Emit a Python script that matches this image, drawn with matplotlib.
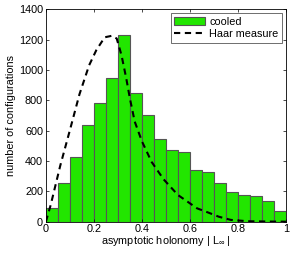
import matplotlib
matplotlib.use("Agg")
import matplotlib.pyplot as plt
import numpy as np

# histogram of cooled configurations (20 bins of width 0.05)
bin_edges = np.linspace(0, 1, 21)
counts = [92, 253, 426, 636, 783, 950, 1233, 851, 704, 544,
          470, 456, 338, 325, 252, 193, 176, 167, 138, 68]

# Haar measure curve
haar_x = [0.0, 0.02, 0.06, 0.10, 0.14, 0.18, 0.21, 0.245, 0.275, 0.295,
          0.315, 0.335, 0.35, 0.37, 0.40, 0.44, 0.49, 0.55, 0.63, 0.68,
          0.72, 0.77, 0.84, 0.92, 1.0]
haar_y = [0, 110, 370, 603, 840, 1030, 1130, 1215, 1225, 1207,
          1097, 943, 812, 660, 530, 395, 280, 176, 88, 58,
          33, 12, 3, 1, 0]

plt.rcParams["font.family"] = ["Liberation Sans", "DejaVu Sans"]
plt.rcParams["mathtext.fontset"] = "custom"
plt.rcParams["mathtext.rm"] = "Liberation Sans"
plt.rcParams["mathtext.it"] = "Liberation Sans"

fs = 7.8

fig = plt.figure(figsize=(2.96, 2.56), dpi=100)
ax = fig.add_axes([0.155, 0.134, 0.811, 0.83])

bars = ax.bar(bin_edges[:-1], counts, width=0.05, align="edge",
              color="#22e600", edgecolor="#555555", linewidth=0.8,
              label="cooled")
line, = ax.plot(haar_x, haar_y, color="black", linestyle=(0, (3, 2.2)),
                linewidth=1.5, label="Haar measure")

ax.set_xlim(0, 1)
ax.set_ylim(0, 1400)
ax.set_xticks(np.arange(0, 1.01, 0.2))
ax.set_xticklabels(["0", "0.2", "0.4", "0.6", "0.8", "1"])
ax.set_yticks(np.arange(0, 1401, 200))

ax.tick_params(direction="in", top=True, right=True, length=2.5,
               width=0.5, pad=2, labelsize=fs)
for s in ax.spines.values():
    s.set_linewidth(0.6)

ax.set_xlabel(r"asymptotic holonomy | L$_\infty$ |", fontsize=fs, labelpad=0)
ax.set_ylabel("number of configurations", fontsize=fs, labelpad=2)

leg = ax.legend([bars, line], ["cooled", "Haar measure"],
                loc="upper right", fontsize=fs, frameon=True, fancybox=False,
                edgecolor="black", borderpad=0.35, handlelength=2.8,
                handletextpad=0.4, labelspacing=0.2, borderaxespad=0.35)
leg.get_frame().set_linewidth(0.5)

fig.savefig("out.png", dpi=100)
